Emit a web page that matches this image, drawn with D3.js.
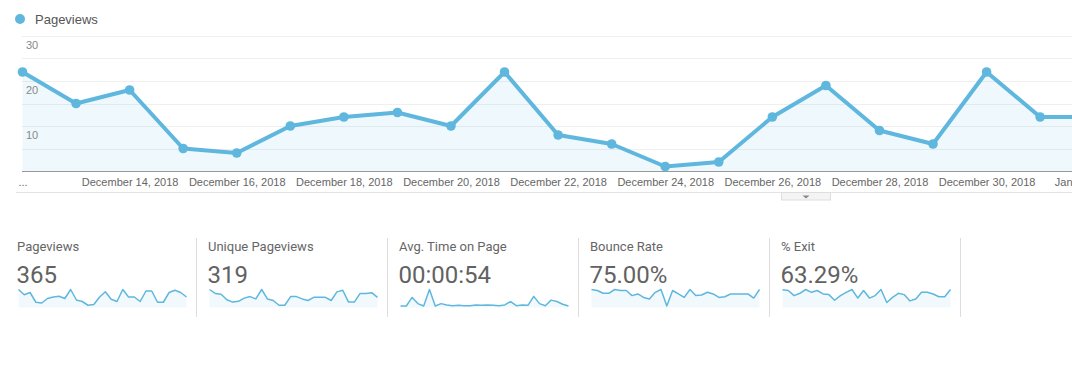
<!DOCTYPE html>
<html>
<head>
<meta charset="utf-8">
<script src="https://cdn.jsdelivr.net/npm/d3@7"></script>
<style>
  html, body { margin: 0; padding: 0; background: #fff; }
  svg { display: block; }
</style>
</head>
<body>
<svg id="chart" width="1072" height="366"></svg>
<script>
// ---------------- DATA ----------------
const seriesName = "Pageviews";
const startDate = new Date(2018, 11, 12);
const pageviews = [22, 15, 18, 5, 4, 10, 12, 13, 10, 22, 8, 6, 1, 2, 12, 19, 9, 6, 22, 12,
                   12, 6, 20, 20, 5, 5, 18, 21, 18, 12];
const yGridValues = [5, 10, 15, 20, 25, 30];
const yLabelValues = [10, 20, 30];
const xTickLabels = ["...", "December 14, 2018", "December 16, 2018", "December 18, 2018",
  "December 20, 2018", "December 22, 2018", "December 24, 2018", "December 26, 2018",
  "December 28, 2018", "December 30, 2018", "January 1, 2019"];

const cardTitles = ["Pageviews", "Unique Pageviews", "Avg. Time on Page", "Bounce Rate", "% Exit"];
const cardValues = ["365", "319", "00:00:54", "75.00%", "63.29%"];
const sparkPageviews = pageviews;
const sparkUnique = [21, 16, 15, 8, 5, 6, 10, 12, 9, 21, 9, 7, 1, 1, 12, 12, 9, 7, 11, 11,
                     11, 7, 18, 20, 5, 5, 16, 16, 17, 11];
const sparkTime = [0, 0, 208, 58, 0, 400, 0, 58, 25, 8, 17, 8, 8, 25, 17, 25, 17, 8, 25, 108,
                   8, 25, 17, 233, 58, 8, 142, 108, 42, 0];
const sparkBounce = [100, 94, 77, 77, 100, 94, 94, 63, 73, 52, 42, 83, 100, 0, 94, 73, 52, 100, 63, 67,
                     83, 73, 52, 56, 73, 73, 73, 73, 48, 100];
const sparkExit = [98, 94, 63, 77, 100, 83, 94, 73, 69, 35, 63, 83, 100, 48, 94, 48, 63, 100, 21, 52,
                   77, 69, 31, 42, 83, 83, 73, 56, 56, 100];
const sparkSeries = [sparkPageviews, sparkUnique, sparkTime, sparkBounce, sparkExit];
const sparkMax = [null, null, null, 100, 100];

// ---------------- DRAW ----------------
const blue = "#5fb7de";
const svg = d3.select("#chart");
const dates = pageviews.map((_, i) => d3.timeDay.offset(startDate, i));
const data = dates.map((d, i) => ({ date: d, value: pageviews[i] }));

const x = d3.scaleTime()
  .domain([dates[0], dates[19]])
  .range([22.5, 22.5 + 19 * 53.56]);
const y = d3.scaleLinear().domain([0, 30]).range([171, 36]);

// legend
svg.append("circle").attr("cx", 20).attr("cy", 19).attr("r", 5).attr("fill", blue);
svg.append("text").attr("x", 35).attr("y", 23.5)
  .attr("font-family", "Arial, 'Liberation Sans', sans-serif").attr("font-size", 13)
  .attr("fill", "#555").text(seriesName);

// grid
svg.append("g").selectAll("line").data(yGridValues).join("line")
  .attr("x1", 22).attr("x2", 1072)
  .attr("y1", d => Math.round(y(d)) + 0.5).attr("y2", d => Math.round(y(d)) + 0.5)
  .attr("stroke", "#efefef");

// area
const area = d3.area().x(d => x(d.date)).y0(y(0)).y1(d => y(d.value));
svg.append("path").datum(data).attr("d", area).attr("fill", blue).attr("fill-opacity", 0.1);

// baseline
svg.append("line").attr("x1", 22).attr("x2", 1072)
  .attr("y1", y(0) + 0.5).attr("y2", y(0) + 0.5).attr("stroke", "#999");

// y labels
svg.append("g").selectAll("text").data(yLabelValues).join("text")
  .attr("x", 26).attr("y", d => y(d) + 12.5)
  .attr("font-family", "Arial, 'Liberation Sans', sans-serif").attr("font-size", 11)
  .attr("fill", "#888").text(d => d);

// line + points
const line = d3.line().x(d => x(d.date)).y(d => y(d.value));
svg.append("path").datum(data).attr("d", line)
  .attr("fill", "none").attr("stroke", blue).attr("stroke-width", 4)
  .attr("stroke-linejoin", "round");
svg.append("g").selectAll("circle").data(data).join("circle")
  .attr("cx", d => x(d.date)).attr("cy", d => y(d.value)).attr("r", 4.8).attr("fill", blue);

// x axis
const tickDates = xTickLabels.map((_, i) => d3.timeDay.offset(startDate, i * 2));
const xAxis = d3.axisBottom(x).tickValues(tickDates).tickSize(0).tickPadding(0)
  .tickFormat((d, i) => xTickLabels[i]);
const gx = svg.append("g").attr("transform", `translate(0,${y(0)})`).call(xAxis);
gx.select(".domain").remove();
gx.selectAll("text").attr("dy", null).attr("y", 15)
  .attr("font-family", "Arial, 'Liberation Sans', sans-serif").attr("font-size", 11)
  .attr("fill", "#666");

// separator line + tab
svg.append("line").attr("x1", 16).attr("x2", 1072).attr("y1", 192.5).attr("y2", 192.5)
  .attr("stroke", "#e3e3e3");
svg.append("rect").attr("x", 781.5).attr("y", 192.5).attr("width", 49).attr("height", 7.5)
  .attr("fill", "#f4f4f4").attr("stroke", "#dedede");
svg.append("path").attr("d", "M802.5,195.5 L809.5,195.5 L806,198.5 Z").attr("fill", "#888");

// scorecards
const cardX = d3.scaleLinear().domain([0, 4]).range([17, 781]);
const cards = svg.append("g").selectAll("g").data(cardTitles).join("g")
  .attr("transform", (d, i) => `translate(${cardX(i)},0)`);
cards.append("text").attr("x", 0).attr("y", 250.5)
  .attr("font-family", "Roboto, 'Open Sans', sans-serif").attr("font-size", 13)
  .attr("fill", "#666").text(d => d);
cards.append("text").attr("x", -0.5).attr("y", 283)
  .attr("font-family", "Roboto, 'Open Sans', sans-serif").attr("font-size", 24)
  .attr("fill", "#626262").text((d, i) => cardValues[i]);
cards.append("line").attr("x1", 179.5).attr("x2", 179.5).attr("y1", 238).attr("y2", 317)
  .attr("stroke", "#ddd");

cards.each(function (d, i) {
  const vals = sparkSeries[i];
  const sx = d3.scaleLinear().domain([0, vals.length - 1]).range([1.5, 169.5]);
  const sy = d3.scaleLinear().domain([0, sparkMax[i] ?? d3.max(vals)]).range([306, 289.5]);
  const g = d3.select(this);
  g.append("path").datum(vals)
    .attr("d", d3.area().x((v, j) => sx(j)).y0(307.5).y1(v => sy(v)))
    .attr("fill", blue).attr("fill-opacity", 0.09);
  g.append("path").datum(vals)
    .attr("d", d3.line().x((v, j) => sx(j)).y(v => sy(v)))
    .attr("fill", "none").attr("stroke", blue).attr("stroke-width", 1.5)
    .attr("stroke-linejoin", "round");
});
</script>
</body>
</html>
